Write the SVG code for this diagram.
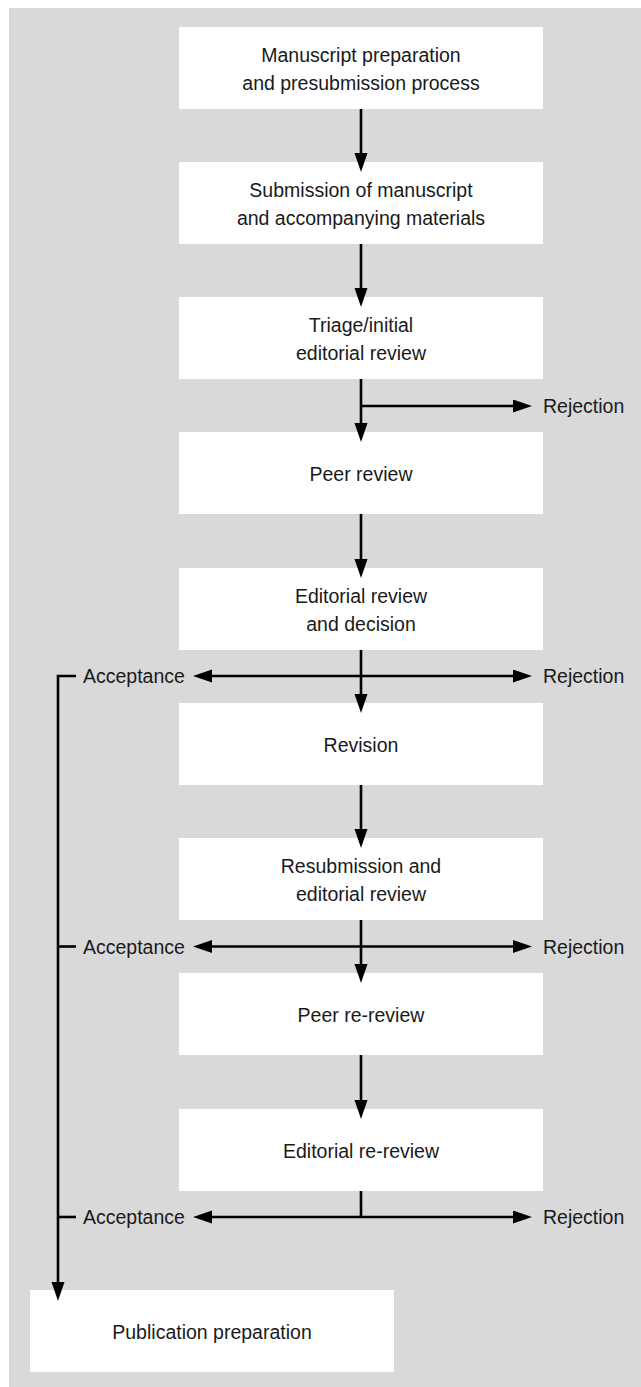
<svg xmlns="http://www.w3.org/2000/svg" width="641" height="1387" viewBox="0 0 641 1387">
<style>
.box{fill:#ffffff}
.t{font-family:"Liberation Sans",Arial,sans-serif;font-size:19.5px;fill:#1a1a1a}
.c{text-anchor:middle}
.ln{fill:none;stroke:#000;stroke-width:2.6}
.arr{marker-end:url(#ah)}
</style>
<defs>
<marker id="ah" markerUnits="userSpaceOnUse" markerWidth="20" markerHeight="14" refX="10" refY="6.5" orient="auto">
<path d="M0,0 L19,6.5 L0,13 z" fill="#000"/>
</marker>
</defs>
<rect x="9" y="8" width="632" height="1379" fill="#d9d9d9"/>
<g id="n1"><rect class="box" x="179" y="27" width="364" height="82"/><text class="t c" x="361" y="62">Manuscript preparation</text><text class="t c" x="361" y="90">and presubmission process</text></g>
<g id="n2"><rect class="box" x="179" y="162" width="364" height="82"/><text class="t c" x="361" y="197">Submission of manuscript</text><text class="t c" x="361" y="225">and accompanying materials</text></g>
<g id="n3"><rect class="box" x="179" y="297" width="364" height="82"/><text class="t c" x="361" y="332">Triage/initial</text><text class="t c" x="361" y="360">editorial review</text></g>
<g id="n4"><rect class="box" x="179" y="432" width="364" height="82"/><text class="t c" x="361" y="481">Peer review</text></g>
<g id="n5"><rect class="box" x="179" y="568" width="364" height="82"/><text class="t c" x="361" y="603">Editorial review</text><text class="t c" x="361" y="631">and decision</text></g>
<g id="n6"><rect class="box" x="179" y="703" width="364" height="82"/><text class="t c" x="361" y="752">Revision</text></g>
<g id="n7"><rect class="box" x="179" y="838" width="364" height="82"/><text class="t c" x="361" y="873">Resubmission and</text><text class="t c" x="361" y="901">editorial review</text></g>
<g id="n8"><rect class="box" x="179" y="973" width="364" height="82"/><text class="t c" x="361" y="1022">Peer re-review</text></g>
<g id="n9"><rect class="box" x="179" y="1109" width="364" height="82"/><text class="t c" x="361" y="1158">Editorial re-review</text></g>
<g id="n10"><rect class="box" x="30" y="1290" width="364" height="82"/><text class="t c" x="212" y="1339">Publication preparation</text></g>
<g id="labels">
<text class="t" x="543" y="413">Rejection</text>
<text class="t" x="83" y="683">Acceptance</text>
<text class="t" x="543" y="683">Rejection</text>
<text class="t" x="83" y="954">Acceptance</text>
<text class="t" x="543" y="954">Rejection</text>
<text class="t" x="83" y="1224">Acceptance</text>
<text class="t" x="543" y="1224">Rejection</text>
</g>
<g id="connectors">
<path class="ln arr" d="M361,109 V163"/>
<path class="ln arr" d="M361,244 V298"/>
<path class="ln arr" d="M361,379 V433"/>
<path class="ln arr" d="M361,406 H523"/>
<path class="ln arr" d="M361,514 V569"/>
<path class="ln arr" d="M361,650 V704"/>
<path class="ln arr" d="M361,676 H523"/>
<path class="ln arr" d="M361,676 H202"/>
<path class="ln arr" d="M361,785 V839"/>
<path class="ln arr" d="M361,920 V974"/>
<path class="ln arr" d="M361,946.5 H523"/>
<path class="ln arr" d="M361,946.5 H202"/>
<path class="ln arr" d="M361,1055 V1110"/>
<path class="ln" d="M361,1191 V1217"/>
<path class="ln arr" d="M361,1217 H523"/>
<path class="ln arr" d="M361,1217 H202"/>
<path class="ln arr" d="M76,676 H58 V1292"/>
<path class="ln" d="M76,946.5 H58"/>
<path class="ln" d="M76,1217 H58"/>
</g>
</svg>
